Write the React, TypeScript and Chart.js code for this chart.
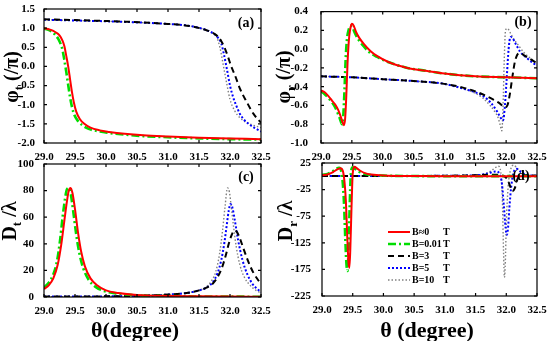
import React, { useEffect, useRef } from 'react';
import { Chart, registerables } from 'chart.js';
Chart.register(...registerables);

const FONT = "'Liberation Serif', 'Times New Roman', serif";

// ---- tick values ----
const X_TICKS = [29.0, 29.5, 30.0, 30.5, 31.0, 31.5, 32.0, 32.5];
const A_TICKS = [-2.0, -1.5, -1.0, -0.5, 0.0, 0.5, 1.0, 1.5];
const B_TICKS = [-1.0, -0.8, -0.6, -0.4, -0.2, 0.0, 0.2, 0.4];
const C_TICKS = [0, 20, 40, 60, 80, 100];
const D_TICKS = [-225, -175, -125, -75, -25, 25];

const LEGEND_LABELS = ['B\u22480', 'B=0.01', 'B=3', 'B=5', 'B=10'];
const LEGEND_UNIT = 'T';

// ---- panel (a): phi_t ----
const A_RED_X = [29.0, 29.08, 29.15, 29.2, 29.25, 29.3, 29.33, 29.36, 29.39, 29.42, 29.45, 29.48, 29.52, 29.58, 29.65, 29.75, 29.9, 30.05, 30.3, 30.6, 31.0, 31.5, 32.0, 32.5];
const A_RED_Y = [1.0, 0.97, 0.93, 0.88, 0.81, 0.67, 0.52, 0.27, 0.0, -0.33, -0.66, -0.93, -1.18, -1.38, -1.5, -1.6, -1.67, -1.71, -1.76, -1.8, -1.83, -1.86, -1.88, -1.9];
const A_GRN_X = [29.0, 29.08, 29.13, 29.18, 29.23, 29.27, 29.3, 29.33, 29.36, 29.39, 29.42, 29.45, 29.49, 29.55, 29.62, 29.72, 29.87, 30.02, 30.3, 30.6, 31.0, 31.5, 32.0, 32.5];
const A_GRN_Y = [0.99, 0.95, 0.9, 0.83, 0.72, 0.58, 0.42, 0.15, -0.15, -0.48, -0.8, -1.05, -1.27, -1.43, -1.54, -1.63, -1.69, -1.73, -1.78, -1.82, -1.85, -1.88, -1.9, -1.91];
const A_B3_X = [29.0, 29.5, 29.9, 30.3, 30.7, 31.0, 31.24, 31.4, 31.51, 31.63, 31.73, 31.8, 31.86, 31.92, 31.97, 32.02, 32.08, 32.16, 32.27, 32.38, 32.5];
const A_B3_Y = [1.23, 1.21, 1.19, 1.17, 1.14, 1.11, 1.08, 1.04, 1.0, 0.94, 0.87, 0.79, 0.66, 0.46, 0.24, 0.0, -0.23, -0.58, -0.93, -1.24, -1.47];
const A_B5_X = [29.0, 29.5, 30.0, 30.5, 31.0, 31.3, 31.5, 31.65, 31.75, 31.82, 31.86, 31.9, 31.95, 32.0, 32.05, 32.1, 32.16, 32.22, 32.3, 32.4, 32.5];
const A_B5_Y = [1.22, 1.2, 1.18, 1.15, 1.11, 1.07, 1.01, 0.93, 0.84, 0.72, 0.6, 0.33, -0.07, -0.5, -0.8, -1.02, -1.24, -1.38, -1.5, -1.61, -1.7];
const A_B10_X = [29.0, 29.5, 30.0, 30.5, 31.0, 31.3, 31.5, 31.65, 31.72, 31.78, 31.84, 31.89, 31.95, 32.0, 32.08, 32.16, 32.24, 32.32, 32.4, 32.5];
const A_B10_Y = [1.22, 1.2, 1.18, 1.15, 1.11, 1.07, 1.01, 0.93, 0.87, 0.79, 0.48, 0.05, -0.47, -0.86, -1.17, -1.34, -1.44, -1.5, -1.55, -1.6];

// ---- panel (b): phi_r ----
const B_RED_X = [29.0, 29.06, 29.12, 29.18, 29.23, 29.28, 29.31, 29.34, 29.37, 29.39, 29.41, 29.43, 29.45, 29.47, 29.5, 29.53, 29.57, 29.62, 29.7, 29.8, 29.9, 30.1, 30.4, 30.7, 31.0, 31.5, 32.0, 32.5];
const B_RED_Y = [-0.44, -0.46, -0.5, -0.55, -0.59, -0.65, -0.7, -0.76, -0.81, -0.75, -0.5, -0.15, 0.08, 0.2, 0.27, 0.25, 0.18, 0.12, 0.05, -0.02, -0.07, -0.14, -0.2, -0.23, -0.26, -0.29, -0.3, -0.31];
const B_GRN_X = [29.0, 29.06, 29.12, 29.18, 29.23, 29.27, 29.3, 29.32, 29.34, 29.36, 29.38, 29.4, 29.42, 29.45, 29.48, 29.51, 29.55, 29.6, 29.68, 29.78, 29.9, 30.1, 30.4, 30.7, 31.0, 31.5, 32.0, 32.5];
const B_GRN_Y = [-0.45, -0.48, -0.52, -0.57, -0.62, -0.68, -0.73, -0.77, -0.8, -0.72, -0.45, -0.1, 0.1, 0.21, 0.25, 0.23, 0.17, 0.11, 0.04, -0.03, -0.08, -0.14, -0.2, -0.23, -0.26, -0.29, -0.3, -0.31];
const B_B3_X = [29.0, 29.5, 30.0, 30.5, 31.0, 31.3, 31.5, 31.65, 31.8, 31.9, 31.98, 32.02, 32.06, 32.1, 32.14, 32.18, 32.22, 32.3, 32.4, 32.5];
const B_B3_Y = [-0.29, -0.3, -0.32, -0.34, -0.37, -0.41, -0.45, -0.49, -0.54, -0.58, -0.62, -0.6, -0.48, -0.3, -0.14, -0.06, -0.04, -0.07, -0.11, -0.15];
const B_B5_X = [29.0, 29.5, 30.0, 30.5, 31.0, 31.3, 31.5, 31.63, 31.75, 31.85, 31.91, 31.95, 31.98, 32.01, 32.04, 32.07, 32.1, 32.16, 32.23, 32.33, 32.44, 32.5];
const B_B5_Y = [-0.29, -0.3, -0.32, -0.34, -0.37, -0.42, -0.46, -0.5, -0.57, -0.66, -0.73, -0.76, -0.6, -0.3, 0.0, 0.13, 0.12, 0.05, -0.03, -0.09, -0.15, -0.17];
const B_B10_X = [29.0, 29.5, 30.0, 30.5, 31.0, 31.3, 31.5, 31.62, 31.74, 31.82, 31.87, 31.9, 31.93, 31.95, 31.97, 31.99, 32.02, 32.07, 32.12, 32.2, 32.28, 32.4, 32.5];
const B_B10_Y = [-0.29, -0.3, -0.32, -0.34, -0.37, -0.42, -0.47, -0.52, -0.6, -0.67, -0.73, -0.8, -0.87, -0.6, -0.1, 0.2, 0.22, 0.17, 0.11, 0.04, -0.03, -0.1, -0.15];

// ---- panel (c): D_t ----
const C_RED_X = [29.0, 29.08, 29.15, 29.22, 29.28, 29.33, 29.37, 29.4, 29.43, 29.46, 29.5, 29.55, 29.6, 29.66, 29.75, 29.85, 30.0, 30.2, 30.5, 31.0, 31.5, 32.0, 32.5];
const C_RED_Y = [6, 9, 14, 24, 40, 58, 72, 80, 82, 78, 66, 48, 34, 23, 14, 9, 5, 3, 1.5, 0.8, 0.5, 0.3, 0.2];
const C_GRN_X = [29.0, 29.08, 29.15, 29.21, 29.26, 29.3, 29.34, 29.37, 29.4, 29.43, 29.47, 29.52, 29.57, 29.63, 29.72, 29.82, 29.97, 30.2, 30.5, 31.0, 31.5, 32.0, 32.5];
const C_GRN_Y = [7, 11, 17, 27, 43, 60, 74, 81, 82, 78, 65, 47, 33, 22, 13, 8, 4.5, 2.5, 1.3, 0.7, 0.4, 0.3, 0.2];
const C_B3_X = [29.0, 29.5, 30.0, 30.5, 31.0, 31.3, 31.5, 31.62, 31.72, 31.8, 31.87, 31.93, 31.98, 32.03, 32.07, 32.11, 32.16, 32.22, 32.3, 32.38, 32.45, 32.5];
const C_B3_Y = [0.3, 0.3, 0.5, 0.9, 1.8, 3, 5, 7, 10, 15, 22, 31, 40, 47, 50, 49, 44, 36, 26, 18, 13, 10];
const C_B5_X = [29.0, 29.5, 30.0, 30.5, 31.0, 31.3, 31.5, 31.62, 31.72, 31.8, 31.86, 31.91, 31.95, 31.98, 32.01, 32.04, 32.08, 32.13, 32.2, 32.28, 32.36, 32.44, 32.5];
const C_B5_Y = [0.3, 0.3, 0.5, 0.9, 1.8, 3, 5, 7, 11, 18, 28, 41, 55, 65, 70, 67, 57, 43, 28, 17, 10, 6, 3.5];
const C_B10_X = [29.0, 29.5, 30.0, 30.5, 31.0, 31.3, 31.5, 31.6, 31.7, 31.77, 31.83, 31.88, 31.92, 31.96, 31.99, 32.02, 32.06, 32.1, 32.16, 32.23, 32.32, 32.42, 32.5];
const C_B10_Y = [0.3, 0.3, 0.5, 0.9, 1.8, 3, 5, 7, 12, 19, 32, 50, 68, 82, 79, 68, 52, 38, 24, 15, 9, 5, 3];

// ---- panel (d): D_r ----
const D_RED_X = [29.0, 29.1, 29.18, 29.25, 29.3, 29.34, 29.37, 29.39, 29.41, 29.43, 29.445, 29.46, 29.48, 29.5, 29.53, 29.57, 29.63, 29.7, 29.8, 30.0, 30.5, 31.0, 31.5, 32.0, 32.5];
const D_RED_Y = [2, 4, 8, 13, 15, 10, -15, -50, -110, -160, -172, -140, -60, 5, 18, 15, 10, 6, 3.5, 1.5, 0.5, 0.2, 0.2, 0.3, 0.2];
const D_GRN_X = [29.0, 29.1, 29.17, 29.23, 29.28, 29.31, 29.34, 29.36, 29.38, 29.4, 29.415, 29.43, 29.45, 29.47, 29.5, 29.54, 29.6, 29.67, 29.77, 30.0, 30.5, 31.0, 31.5, 32.0, 32.5];
const D_GRN_Y = [3, 5, 9, 14, 16, 11, -15, -55, -120, -168, -178, -145, -60, 5, 17, 14, 9, 5.5, 3, 1.3, 0.5, 0.2, 0.2, 0.3, 0.2];
const D_B3_X = [29.0, 30.0, 31.0, 31.5, 31.8, 31.95, 32.02, 32.06, 32.1, 32.14, 32.18, 32.24, 32.32, 32.5];
const D_B3_Y = [0.5, 0.5, 1, 2, 3, 1, -6, -18, -28, -22, -6, 3, 2, 1];
const D_B5_X = [29.0, 30.0, 31.0, 31.5, 31.65, 31.75, 31.83, 31.89, 31.93, 31.96, 31.99, 32.01, 32.03, 32.05, 32.08, 32.12, 32.17, 32.24, 32.32, 32.5];
const D_B5_Y = [0.5, 0.5, 1, 2, 4, 7, 9, 5, -15, -55, -98, -110, -95, -60, -20, 8, 14, 8, 3, 1];
const D_B10_X = [29.0, 30.0, 31.0, 31.5, 31.65, 31.75, 31.82, 31.87, 31.91, 31.935, 31.955, 31.97, 31.985, 32.0, 32.03, 32.07, 32.12, 32.18, 32.25, 32.35, 32.5];
const D_B10_Y = [0.5, 0.5, 1, 2, 5, 10, 16, 19, 8, -40, -140, -190, -160, -90, -20, 12, 21, 14, 6, 2, 1];

const STYLES = [
  { color: '#ff0000', width: 2, dash: [] as number[] },
  { color: '#00dd00', width: 2.6, dash: [8, 3, 2, 3] },
  { color: '#000000', width: 2, dash: [6, 4] },
  { color: '#0000ff', width: 2, dash: [2, 2] },
  { color: '#808080', width: 1.4, dash: [1.5, 2] },
];

type Spec = {
  left: number; top: number; w: number; h: number;
  ca: { left: number; top: number; right: number; bottom: number };
  min: number; max: number; yTicks: number[]; dec: number; ypad: number;
  series: [number[], number[]][];
  ytitle: { main: string; sub: string; rest: string; x: number; y: number };
  xtitle?: { text: string; x: number; y: number };
  letter: { text: string; x: number; y: number };
  legend?: { x0: number; x1: number; tx: number; ux: number; ys: number[] };
};

const SPECS: Spec[] = [
  {
    left: 0, top: 0, w: 275, h: 160, ca: { left: 44, top: 9, right: 261, bottom: 143 },
    min: -2, max: 1.5, yTicks: A_TICKS, dec: 1, ypad: 1,
    series: [[A_RED_X, A_RED_Y], [A_GRN_X, A_GRN_Y], [A_B3_X, A_B3_Y], [A_B5_X, A_B5_Y], [A_B10_X, A_B10_Y]],
    ytitle: { main: '\u03c6', sub: 't', rest: ' (/\u03c0)', x: 11, y: 77 },
    letter: { text: '(a)', x: 246, y: 23 },
  },
  {
    left: 275, top: 0, w: 275, h: 160, ca: { left: 46, top: 9, right: 262, bottom: 143 },
    min: -1, max: 0.4, yTicks: B_TICKS, dec: 1, ypad: 5,
    series: [[B_RED_X, B_RED_Y], [B_GRN_X, B_GRN_Y], [B_B3_X, B_B3_Y], [B_B5_X, B_B5_Y], [B_B10_X, B_B10_Y]],
    ytitle: { main: '\u03c6', sub: 'r', rest: ' (/\u03c0)', x: 8, y: 77 },
    letter: { text: '(b)', x: 248, y: 22 },
  },
  {
    left: 0, top: 150, w: 275, h: 191, ca: { left: 44, top: 14, right: 261, bottom: 147 },
    min: 0, max: 100, yTicks: C_TICKS, dec: 0, ypad: 2,
    series: [[C_RED_X, C_RED_Y], [C_GRN_X, C_GRN_Y], [C_B3_X, C_B3_Y], [C_B5_X, C_B5_Y], [C_B10_X, C_B10_Y]],
    ytitle: { main: 'D', sub: 't', rest: ' /\u03bb', x: 9, y: 71 },
    xtitle: { text: '\u03b8(degree)', x: 135, y: 181 },
    letter: { text: '(c)', x: 246, y: 27 },
  },
  {
    left: 275, top: 150, w: 275, h: 191, ca: { left: 47, top: 13, right: 262, bottom: 146 },
    min: -225, max: 25, yTicks: D_TICKS, dec: 0, ypad: 3,
    series: [[D_RED_X, D_RED_Y], [D_GRN_X, D_GRN_Y], [D_B3_X, D_B3_Y], [D_B5_X, D_B5_Y], [D_B10_X, D_B10_Y]],
    ytitle: { main: 'D', sub: 'r', rest: ' /\u03bb', x: 10, y: 71 },
    xtitle: { text: '\u03b8 (degree)', x: 152, y: 181 },
    letter: { text: '(d)', x: 246, y: 26 },
    legend: { x0: 113, x1: 135, tx: 137, ux: 168, ys: [82, 94, 106, 118, 130] },
  },
];

function makePlugin(spec: Spec) {
  return {
    id: 'frame',
    afterDatasetsDraw(chart: any) {
      const { ctx, chartArea: ca, scales } = chart;
      ctx.save();
      ctx.strokeStyle = '#000';
      ctx.lineWidth = 1.2;
      ctx.setLineDash([]);
      ctx.strokeRect(ca.left, ca.top, ca.right - ca.left, ca.bottom - ca.top);
      const tl = 3;
      ctx.beginPath();
      X_TICKS.forEach((v) => {
        const px = scales.x.getPixelForValue(v);
        ctx.moveTo(px, ca.bottom); ctx.lineTo(px, ca.bottom - tl);
        ctx.moveTo(px, ca.top); ctx.lineTo(px, ca.top + tl);
      });
      spec.yTicks.forEach((v) => {
        const py = scales.y.getPixelForValue(v);
        ctx.moveTo(ca.left, py); ctx.lineTo(ca.left + tl, py);
        ctx.moveTo(ca.right, py); ctx.lineTo(ca.right - tl, py);
      });
      ctx.stroke();
      ctx.restore();
    },
    afterDraw(chart: any) {
      const { ctx } = chart;
      ctx.save();
      ctx.fillStyle = '#000';
      // panel letter
      ctx.font = `bold 14px ${FONT}`;
      ctx.textAlign = 'center';
      ctx.textBaseline = 'middle';
      ctx.fillText(spec.letter.text, spec.letter.x, spec.letter.y);
      // y title with subscript
      const t = spec.ytitle;
      const size = 20;
      const f1 = `bold ${size}px ${FONT}`;
      const f2 = `bold ${Math.round(size * 0.65)}px ${FONT}`;
      ctx.translate(t.x, t.y);
      ctx.rotate(-Math.PI / 2);
      ctx.textAlign = 'left';
      ctx.textBaseline = 'alphabetic';
      ctx.font = f1;
      const w1 = ctx.measureText(t.main).width;
      const w3 = ctx.measureText(t.rest).width;
      ctx.font = f2;
      const w2 = ctx.measureText(t.sub).width;
      let x = -(w1 + w2 + w3) / 2;
      const base = size * 0.33;
      ctx.font = f1; ctx.fillText(t.main, x, base); x += w1;
      ctx.font = f2; ctx.fillText(t.sub, x, base + size * 0.25); x += w2;
      ctx.font = f1; ctx.fillText(t.rest, x, base);
      ctx.setTransform(1, 0, 0, 1, 0, 0);
      // x title
      if (spec.xtitle) {
        ctx.font = `bold 22px ${FONT}`;
        ctx.textAlign = 'center';
        ctx.textBaseline = 'middle';
        ctx.fillText(spec.xtitle.text, spec.xtitle.x, spec.xtitle.y);
      }
      // legend
      if (spec.legend) {
        const L = spec.legend;
        L.ys.forEach((yy, i) => {
          const st = STYLES[i];
          ctx.beginPath();
          ctx.strokeStyle = st.color;
          ctx.lineWidth = st.width;
          ctx.setLineDash(st.dash);
          ctx.moveTo(L.x0, yy); ctx.lineTo(L.x1, yy);
          ctx.stroke();
          ctx.setLineDash([]);
          ctx.font = `bold 10px ${FONT}`;
          ctx.textAlign = 'left';
          ctx.textBaseline = 'middle';
          ctx.fillText(LEGEND_LABELS[i], L.tx, yy);
          ctx.fillText(LEGEND_UNIT, L.ux, yy);
        });
      }
      ctx.restore();
    },
  };
}

function Panel({ spec }: { spec: Spec }) {
  const ref = useRef<HTMLCanvasElement | null>(null);
  useEffect(() => {
    const tickFont = { family: FONT, size: 11, weight: 'bold' as const };
    const chart = new Chart(ref.current as HTMLCanvasElement, {
      type: 'line',
      data: {
        datasets: spec.series.map(([xs, ys], i) => ({
          data: xs.map((x, j) => ({ x, y: ys[j] })),
          borderColor: STYLES[i].color,
          borderWidth: STYLES[i].width,
          borderDash: STYLES[i].dash,
          pointRadius: 0,
          fill: false,
          cubicInterpolationMode: 'monotone' as const,
        })),
      },
      options: {
        responsive: false,
        animation: false,
        layout: { padding: { top: spec.ca.top, right: spec.w - spec.ca.right, left: 0, bottom: 0 } },
        plugins: { legend: { display: false }, tooltip: { enabled: false } },
        scales: {
          x: {
            type: 'linear', min: 29, max: 32.5,
            afterBuildTicks: (s: any) => { s.ticks = X_TICKS.map((v) => ({ value: v })); },
            afterFit: (s: any) => { s.height = spec.h - spec.ca.bottom; },
            ticks: { font: tickFont, color: '#000', padding: 0, maxRotation: 0, autoSkip: false, callback: (v: any) => Number(v).toFixed(1) },
            grid: { display: false }, border: { display: false },
          },
          y: {
            type: 'linear', min: spec.min, max: spec.max,
            afterBuildTicks: (s: any) => { s.ticks = spec.yTicks.map((v) => ({ value: v })); },
            afterFit: (s: any) => { s.width = spec.ca.left; },
            ticks: { font: tickFont, color: '#000', padding: spec.ypad, autoSkip: false, callback: (v: any) => Number(v).toFixed(spec.dec) },
            grid: { display: false }, border: { display: false },
          },
        },
      },
      plugins: [makePlugin(spec)],
    } as any);
    return () => chart.destroy();
  }, [spec]);
  return (
    <canvas
      ref={ref}
      width={spec.w}
      height={spec.h}
      style={{ position: 'absolute', left: spec.left, top: spec.top, width: spec.w, height: spec.h }}
    />
  );
}

export default function App() {
  return (
    <div style={{ position: 'absolute', left: 0, top: 0, width: 550, height: 341, background: '#fff', overflow: 'hidden' }}>
      {SPECS.map((s, i) => <Panel key={i} spec={s} />)}
    </div>
  );
}
